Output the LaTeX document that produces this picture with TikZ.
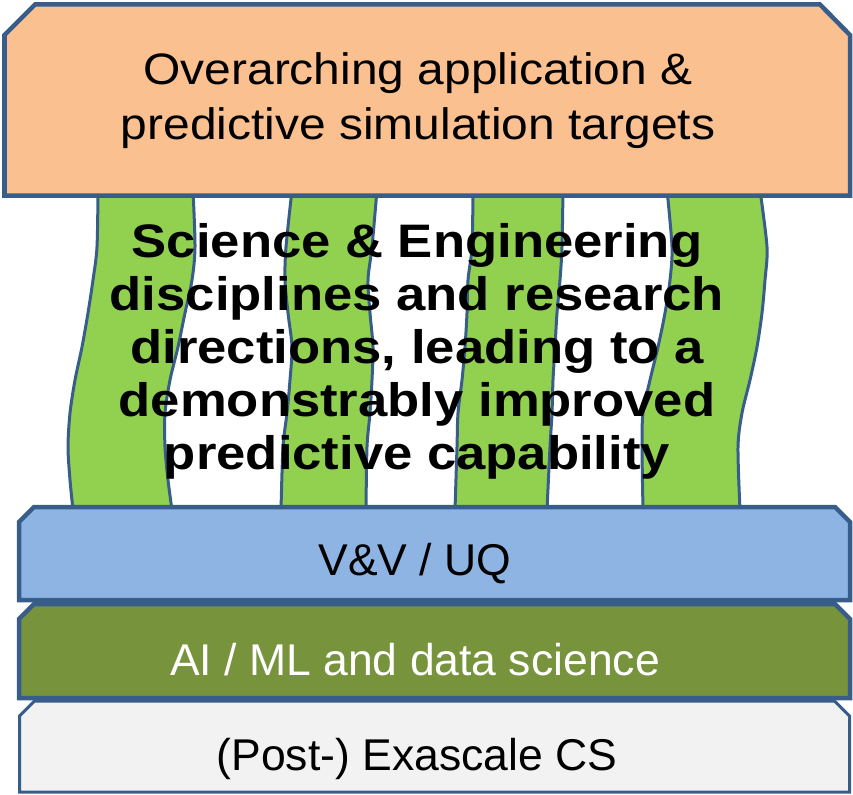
\documentclass[tikz,border=0pt]{standalone}
\usepackage{fontspec}
\setmainfont{Liberation Sans}
\newfontfamily\targetfont[FakeStretch=1.09]{Liberation Sans}
\newfontfamily\pillarfont[FakeStretch=1.12]{Liberation Sans}
\usetikzlibrary{positioning}
\definecolor{edgeblue}{HTML}{385D8A}
\definecolor{targetorange}{HTML}{FAC090}
\definecolor{pillargreen}{HTML}{92D050}
\definecolor{vvblue}{HTML}{8EB4E3}
\definecolor{aigreen}{HTML}{77933C}
\definecolor{csgray}{HTML}{F2F2F2}
\tikzstyle{layer}=[draw=edgeblue,line width=4.5bp]
\tikzstyle{pillar}=[draw=edgeblue,fill=pillargreen,line width=3bp]
\tikzstyle{layertext}=[font=\fontsize{44.5bp}{53bp}\selectfont,anchor=base]

\begin{document}
\begin{tikzpicture}[x=1bp,y=-1bp]
    \useasboundingbox (0,0) rectangle (853,795);

    % pillars
    \draw[pillar] plot[smooth] coordinates {(98,190) (97,247) (93,280) (88,313) (82,347) (75,380) (70,413) (68,447) (70,480) (73,510)}
        -- plot[smooth] coordinates {(172,510) (168,480) (165,447) (165,413) (170,380) (178,347) (185,313) (192,280) (195,247) (193,190)} -- cycle;
    \draw[pillar] plot[smooth] coordinates {(292,190) (286,247) (285,280) (288,313) (292,347) (290,380) (287,413) (283,447) (281,510)}
        -- plot[smooth] coordinates {(366,510) (367,447) (370,413) (372,380) (373,347) (370,313) (368,280) (372,247) (377,190)} -- cycle;
    \draw[pillar] plot[smooth] coordinates {(473,190) (472,247) (468,280) (467,313) (465,347) (462,380) (458,413) (457,447) (455,510)}
        -- plot[smooth] coordinates {(547,510) (550,447) (552,413) (553,380) (555,347) (557,313) (560,280) (562,247) (563,190)} -- cycle;
    \draw[pillar] plot[smooth] coordinates {(667,190) (672,247) (670,280) (665,313) (658,347) (650,380) (643,413) (642,447) (643,510)}
        -- plot[smooth] coordinates {(740,510) (738,447) (742,413) (750,380) (757,347) (762,313) (765,280) (767,247) (760,190)} -- cycle;

    % layers
    \draw[layer,fill=targetorange] (4.5,35) -- (35,4.5) -- (820,4.5) -- (850,35) -- (850,195.5) -- (4.5,195.5) -- cycle;
    \draw[layer,fill=vvblue] (19,522) -- (34,507) -- (835,507) -- (850,522) -- (850,600) -- (19,600) -- cycle;
    \draw[layer,fill=aigreen] (19,619) -- (34,604) -- (835,604) -- (850,619) -- (850,698) -- (19,698) -- cycle;
    \draw[layer,line width=3bp,fill=csgray] (19.5,716) -- (34.5,701) -- (834.5,701) -- (849.5,716) -- (849.5,792) -- (19.5,792) -- cycle;

    \node[font=\targetfont\fontsize{44bp}{55bp}\selectfont,align=center] (targets) at (418,101)
        {Overarching application \&\\predictive simulation targets};
    \node[font=\pillarfont\bfseries\fontsize{47bp}{53bp}\selectfont,align=center] (disciplines) at (417,351)
        {Science \& Engineering\\disciplines and research\\directions, leading to a\\demonstrably improved\\predictive capability};
    \node[layertext] (vvuq) at (415,575) {V\&V / UQ};
    \node[layertext,text=white] (aiml) at (415,675) {AI / ML and data science};
    \node[layertext] (exascale) at (417,770) {(Post-) Exascale CS};
\end{tikzpicture}
\end{document}
